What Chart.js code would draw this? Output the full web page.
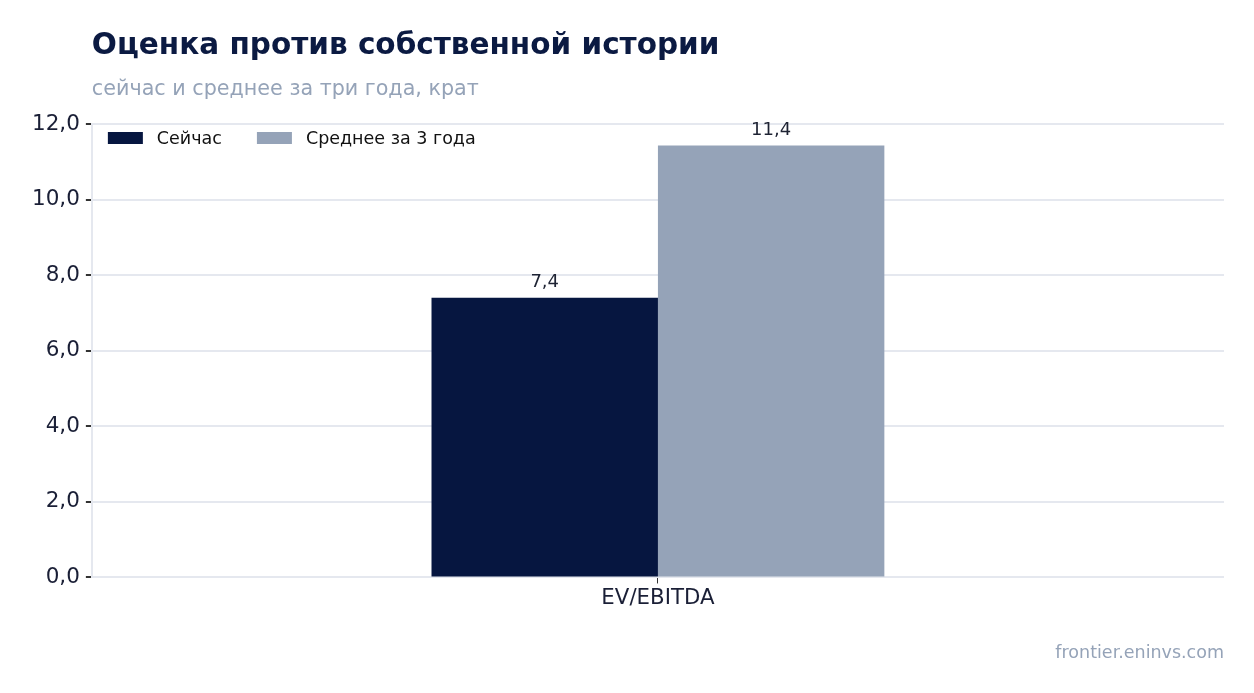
<!DOCTYPE html>
<html>
<head>
<meta charset="utf-8">
<script src="https://cdn.jsdelivr.net/npm/chart.js@4/dist/chart.umd.min.js"></script>
<style>
  html, body { margin: 0; padding: 0; background: #fff; }
  canvas { display: block; }
</style>
</head>
<body>
<canvas id="myChart" width="1254" height="693"></canvas>
<script>
const categories = ['EV/EBITDA'];
const seriesNames = ['Сейчас', 'Среднее за 3 года'];
const nowValues = [7.4];
const avgValues = [11.43];
const seriesColors = ['#061640', '#95a3b8'];

const FONT = '"DejaVu Sans", sans-serif';
const fmt = v => v.toFixed(1).replace('.', ',');

// заголовок, легенда, подписи, футер
const decor = {
  id: 'decor',
  afterDraw(chart) {
    const c = chart.ctx;
    const a = chart.chartArea;
    c.save();
    c.textBaseline = 'alphabetic';
    c.textAlign = 'left';
    c.fillStyle = '#0b1a42';
    c.font = 'bold 29.5px ' + FONT;
    c.fillText('Оценка против собственной истории', a.left, 54);
    c.fillStyle = '#95a3b8';
    c.font = '20.7px ' + FONT;
    c.fillText('сейчас и среднее за три года, крат', a.left, 95);

    // легенда
    c.font = '17.5px ' + FONT;
    let x = a.left + 16;
    chart.data.datasets.forEach(ds => {
      c.fillStyle = ds.backgroundColor;
      c.fillRect(x, 132, 35, 12);
      c.fillStyle = '#111';
      c.textBaseline = 'middle';
      c.fillText(ds.label, x + 49, 139);
      x += 49 + c.measureText(ds.label).width + 35;
    });

    // подписи значений
    c.textAlign = 'center';
    c.textBaseline = 'bottom';
    c.fillStyle = '#1e2333';
    c.font = '18px ' + FONT;
    chart.data.datasets.forEach((ds, i) => {
      chart.getDatasetMeta(i).data.forEach((bar, j) => {
        c.fillText(fmt(ds.data[j]), bar.x, bar.y - 6);
      });
    });

    // футер
    c.textAlign = 'right';
    c.textBaseline = 'alphabetic';
    c.fillStyle = '#95a3b8';
    c.font = '17.5px ' + FONT;
    c.fillText('frontier.eninvs.com', a.right, 658);
    c.restore();
  }
};

new Chart(document.getElementById('myChart'), {
  type: 'bar',
  data: {
    labels: categories,
    datasets: [
      { label: seriesNames[0], data: nowValues, backgroundColor: seriesColors[0] },
      { label: seriesNames[1], data: avgValues, backgroundColor: seriesColors[1] }
    ]
  },
  options: {
    responsive: false,
    animation: false,
    categoryPercentage: 0.4,
    barPercentage: 1.0,
    layout: { padding: { top: 124, right: 30, bottom: 80, left: 26 } },
    plugins: { legend: { display: false }, tooltip: { enabled: false } },
    scales: {
      x: {
        grid: { offset: false, color: 'transparent', tickColor: '#333', tickLength: 6 },
        border: { display: false },
        ticks: { color: '#1a1f36', font: { family: FONT, size: 21.3 }, padding: 2 }
      },
      y: {
        min: 0, max: 12,
        grid: { color: '#e5e8ef', lineWidth: 2, tickColor: '#333', tickLength: 6 },
        border: { color: '#e5e8ef', width: 2 },
        ticks: { stepSize: 2, color: '#1a1f36', font: { family: FONT, size: 21.5 }, padding: 6,
          callback: v => fmt(v) }
      }
    }
  },
  plugins: [decor]
});
</script>
</body>
</html>
